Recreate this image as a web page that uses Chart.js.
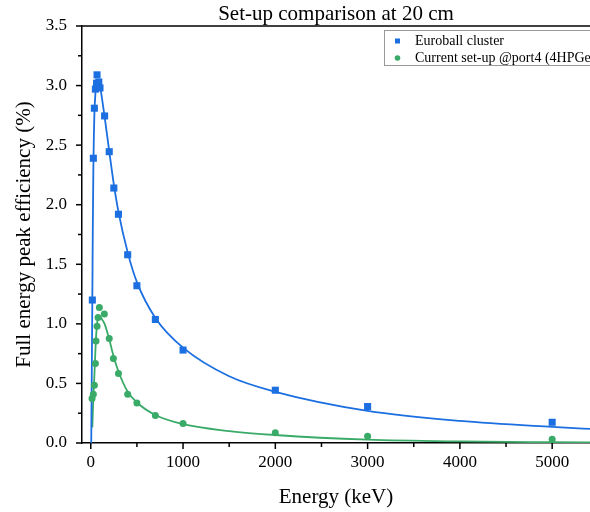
<!DOCTYPE html>
<html>
<head>
<meta charset="utf-8">
<script src="https://cdn.jsdelivr.net/npm/chart.js@4.4.1/dist/chart.umd.min.js"></script>
<style>
  html, body { margin: 0; padding: 0; background: #fff; }
  #wrap { width: 590px; height: 512px; }
</style>
</head>
<body>
<div id="wrap"><canvas id="effChart" width="590" height="512"></canvas></div>
<script>
// measured points (keV, %)
const euroballEnergy = [17, 28, 39, 50, 63, 68, 87, 100, 150, 200, 250, 300, 400, 500, 700, 1000, 2000, 3000, 5000];
const euroballEff = [1.20, 2.39, 2.81, 2.97, 3.02, 3.09, 3.03, 2.98, 2.745, 2.445, 2.14, 1.92, 1.58, 1.32, 1.037, 0.78, 0.443, 0.306, 0.174];

const currentEnergy = [14, 28, 39, 50, 57, 68, 79, 93, 147, 200, 245, 300, 400, 500, 700, 1000, 2000, 3000, 5000];
const currentEff = [0.373, 0.41, 0.485, 0.667, 0.857, 0.98, 1.054, 1.138, 1.082, 0.877, 0.709, 0.583, 0.409, 0.336, 0.230, 0.163, 0.087, 0.056, 0.031];

// fitted curves
const euroballFitEnergy = [5, 10, 17, 22, 28, 34, 40, 50, 60, 70, 85, 100, 120, 150, 200, 250, 300, 400, 500, 700, 1000, 1500, 2000, 3000, 4000, 5000, 5500];
const euroballFitEff = [0, 0.5, 1.2, 1.8, 2.3, 2.6, 2.78, 2.93, 3.0, 3.03, 3.04, 3.0, 2.9, 2.74, 2.45, 2.17, 1.94, 1.6, 1.35, 1.05, 0.8, 0.56, 0.43, 0.27, 0.185, 0.135, 0.115];

const currentFitEnergy = [17, 22, 30, 40, 50, 60, 70, 80, 95, 120, 150, 200, 250, 300, 400, 500, 700, 1000, 1500, 2000, 3000, 4000, 5000, 5500];
const currentFitEff = [0.13, 0.25, 0.42, 0.58, 0.77, 0.92, 1.01, 1.05, 1.06, 1.04, 1.0, 0.87, 0.72, 0.6, 0.43, 0.34, 0.235, 0.158, 0.1, 0.067, 0.028, 0.013, 0.007, 0.005];

const xTicks = [0, 1000, 2000, 3000, 4000, 5000];
const yTicks = [0, 0.5, 1.0, 1.5, 2.0, 2.5, 3.0, 3.5];
const seriesLabels = ["Euroball cluster", "Current set-up @port4 (4HPGe)"];

const BLUE = "#1b6fe0";
const GREEN = "#3aaa68";
const SERIF = "'Liberation Serif', 'Times New Roman', serif";

const pairs = (xs, ys) => xs.map((x, i) => ({ x: x, y: ys[i] }));

/* ===============================
   TICKS, TOP FRAME AND LEGEND
   =============================== */
const framePlugin = {
  id: "frame",
  afterDraw(chart) {
    const { ctx, chartArea, scales } = chart;
    const xs = scales.x;
    const ys = scales.y;
    ctx.save();
    ctx.strokeStyle = "#000";
    ctx.lineWidth = 1.5;

    // top frame
    ctx.beginPath();
    ctx.moveTo(chartArea.left, chartArea.top);
    ctx.lineTo(chartArea.right, chartArea.top);
    ctx.stroke();

    const tick = (x1, y1, x2, y2) => {
      ctx.beginPath();
      ctx.moveTo(x1, y1);
      ctx.lineTo(x2, y2);
      ctx.stroke();
    };

    xTicks.forEach((v, i) => {
      const px = xs.getPixelForValue(v);
      tick(px, chartArea.bottom, px, chartArea.bottom + 6);
      const mid = (i < xTicks.length - 1) ? (v + xTicks[i + 1]) / 2 : v + 500;
      const mp = xs.getPixelForValue(mid);
      if (mp <= chartArea.right) tick(mp, chartArea.bottom, mp, chartArea.bottom + 4);
    });

    yTicks.forEach((v, i) => {
      const py = ys.getPixelForValue(v);
      tick(chartArea.left, py, chartArea.left - 6, py);
      if (i < yTicks.length - 1) {
        const mp = ys.getPixelForValue((v + yTicks[i + 1]) / 2);
        tick(chartArea.left, mp, chartArea.left - 4, mp);
      }
    });

    // legend box
    const lx = 384, ly = 30, lh = 35;
    ctx.fillStyle = "#fff";
    ctx.fillRect(lx, ly, 300, lh);
    ctx.strokeStyle = "#999";
    ctx.lineWidth = 1;
    ctx.strokeRect(lx + 0.5, ly + 0.5, 300, lh);

    ctx.font = "14px " + SERIF;
    ctx.textBaseline = "middle";
    ctx.textAlign = "left";

    ctx.fillStyle = BLUE;
    ctx.fillRect(395, 38.5, 5, 5);
    ctx.fillStyle = GREEN;
    ctx.beginPath();
    ctx.arc(397.5, 58, 2.8, 0, Math.PI * 2);
    ctx.fill();

    ctx.fillStyle = "#000";
    ctx.fillText(seriesLabels[0], 415, 41);
    ctx.fillText(seriesLabels[1], 415, 58.5);
    ctx.restore();
  }
};

const ctx = document.getElementById("effChart");

new Chart(ctx, {
  type: "scatter",
  data: {
    datasets: [
      {
        label: seriesLabels[0],
        data: pairs(euroballEnergy, euroballEff),
        pointStyle: "rect",
        pointRadius: 5,
        backgroundColor: BLUE,
        borderWidth: 0,
      },
      {
        label: seriesLabels[1],
        data: pairs(currentEnergy, currentEff),
        pointStyle: "circle",
        pointRadius: 3.5,
        backgroundColor: GREEN,
        borderWidth: 0,
      },
      {
        label: "Euroball fit",
        data: pairs(euroballFitEnergy, euroballFitEff),
        showLine: true,
        pointRadius: 0,
        borderColor: BLUE,
        borderWidth: 1.8,
        cubicInterpolationMode: "monotone",
      },
      {
        label: "Current fit",
        data: pairs(currentFitEnergy, currentFitEff),
        showLine: true,
        pointRadius: 0,
        borderColor: GREEN,
        borderWidth: 1.8,
        cubicInterpolationMode: "monotone",
      },
    ],
  },
  options: {
    responsive: false,
    animation: false,
    layout: { padding: 0, autoPadding: false },
    plugins: {
      legend: { display: false },
      tooltip: { enabled: false },
      title: {
        display: true,
        text: "Set-up comparison at 20 cm",
        fullSize: false,
        color: "#000",
        font: { family: SERIF, size: 21, weight: "normal", lineHeight: 1 },
        padding: { top: 4, bottom: 1 },
      },
    },
    scales: {
      x: {
        type: "linear",
        min: -95,
        max: 5410,
        afterFit: (scale) => {
          scale.height = 69;
          scale.paddingLeft = 0;
          scale.paddingRight = 0;
        },
        afterBuildTicks: (scale) => { scale.ticks = xTicks.map(v => ({ value: v })); },
        grid: { display: false, drawTicks: false },
        border: { display: true, color: "#000", width: 1.5 },
        ticks: {
          color: "#000",
          font: { family: SERIF, size: 17 },
          padding: 9,
          maxRotation: 0,
          autoSkip: false,
          callback: (v) => String(v),
        },
        title: {
          display: true,
          text: "Energy (keV)",
          color: "#000",
          font: { family: SERIF, size: 21 },
          padding: { top: 0, bottom: 2 },
        },
      },
      y: {
        type: "linear",
        min: 0,
        max: 3.5,
        afterFit: (scale) => {
          scale.width = 82;
          scale.paddingTop = 0;
          scale.paddingBottom = 0;
        },
        afterBuildTicks: (scale) => { scale.ticks = yTicks.map(v => ({ value: v })); },
        grid: { display: false, drawTicks: false },
        border: { display: true, color: "#000", width: 1.5 },
        ticks: {
          color: "#000",
          font: { family: SERIF, size: 17 },
          padding: 15,
          autoSkip: false,
          callback: (v) => Number(v).toFixed(1),
        },
        title: {
          display: true,
          text: "Full energy peak efficiency (%)",
          color: "#000",
          font: { family: SERIF, size: 21 },
          padding: { top: 12, bottom: 0 },
        },
      },
    },
  },
  plugins: [framePlugin],
});
</script>
</body>
</html>
